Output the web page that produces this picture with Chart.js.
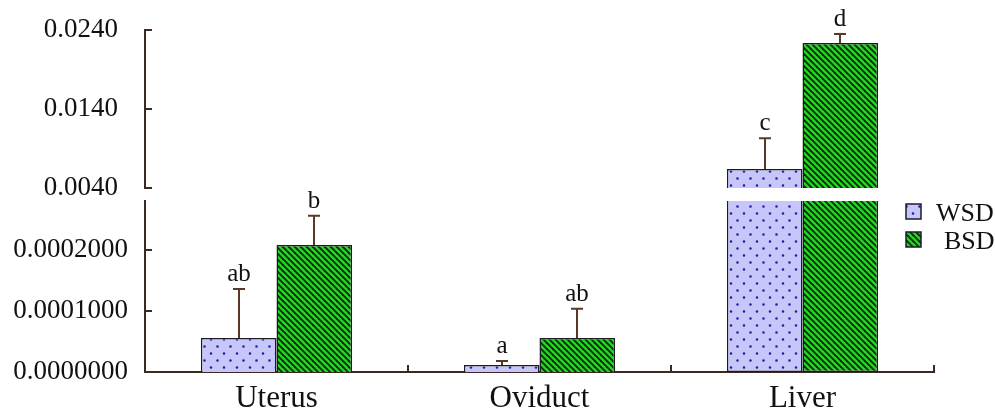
<!DOCTYPE html>
<html lang="en">
<head>
<meta charset="UTF-8">
<title>WSD / BSD</title>
<script src="https://cdn.jsdelivr.net/npm/chart.js"></script>
<style>
  body { margin: 0; background: #fff; }
  .wrap { width: 995px; height: 417px; position: relative; }
</style>
</head>
<body>
<div class="wrap"><canvas id="chart"></canvas></div>
<script>
  // data
  const tissues = ['Uterus', 'Oviduct', 'Liver'];
  const wsd = [0.0000557, 0.0000115, 0.0064];
  const bsd = [0.000208, 0.0000557, 0.02235];
  const wsdErr = [0.0000803, 0.0000065, 0.0039];
  const bsdErr = [0.000048, 0.0000477, 0.00115];
  const wsdLetters = ['ab', 'a', 'c'];
  const bsdLetters = ['b', 'ab', 'd'];
  const lowTicks = [0, 0.0001, 0.0002];
  const highTicks = [0.004, 0.014, 0.024];
  const lowMax = 0.00028;
  const highMin = 0.004, highMax = 0.024;

  const ink = '#3a2a22';
  const serif = 'Liberation Serif';

  function dotPattern() {
    const c = document.createElement('canvas');
    c.width = 13; c.height = 14;
    const g = c.getContext('2d');
    g.fillStyle = '#c6c6f8';
    g.fillRect(0, 0, 13, 14);
    g.fillStyle = '#1e1eaa';
    g.beginPath();
    g.arc(3, 3.5, 1.3, 0, Math.PI * 2);
    g.arc(9.5, 10.5, 1.3, 0, Math.PI * 2);
    g.fill();
    return g.createPattern(c, 'repeat');
  }
  function stripePattern() {
    const c = document.createElement('canvas');
    c.width = 6; c.height = 6;
    const g = c.getContext('2d');
    g.fillStyle = '#2ad02a';
    g.fillRect(0, 0, 6, 6);
    g.strokeStyle = '#0a2c0a';
    g.lineWidth = 1.8;
    for (const k of [-6, 0, 6]) {
      g.beginPath();
      g.moveTo(k - 1, -1);
      g.lineTo(k + 7, 7);
      g.stroke();
    }
    return g.createPattern(c, 'repeat');
  }
  const dots = dotPattern();
  const stripes = stripePattern();

  // error bars, letters, inward ticks and legend
  const extras = {
    id: 'extras',
    afterDraw(chart) {
      const ctx = chart.ctx;
      const area = chart.chartArea;
      const yLow = chart.scales.yLow, yHigh = chart.scales.yHigh, x = chart.scales.x;
      ctx.save();

      // inward ticks on y axes
      ctx.strokeStyle = ink;
      ctx.lineWidth = 2;
      for (const [sc, vals] of [[yLow, lowTicks], [yHigh, highTicks]]) {
        vals.forEach(v => {
          const py = Math.round(sc.getPixelForValue(v));
          ctx.beginPath();
          ctx.moveTo(area.left, py);
          ctx.lineTo(area.left + 7, py);
          ctx.stroke();
        });
      }
      // upward ticks at category boundaries
      for (let i = 0; i < tissues.length; i++) {
        const px = i < tissues.length - 1
          ? (x.getPixelForValue(i) + x.getPixelForValue(i + 1)) / 2
          : area.right;
        ctx.beginPath();
        ctx.moveTo(Math.round(px), area.bottom);
        ctx.lineTo(Math.round(px), area.bottom - 7);
        ctx.stroke();
      }

      // error bars + significance letters
      const series = [
        [wsd, wsdErr, wsdLetters, 0, 2],
        [bsd, bsdErr, bsdLetters, 1, 3]
      ];
      ctx.font = '25px "' + serif + '"';
      ctx.textAlign = 'center';
      ctx.textBaseline = 'alphabetic';
      for (const [vals, errs, letters, lowIdx, highIdx] of series) {
        vals.forEach((v, i) => {
          const high = v > lowMax;
          const sc = high ? yHigh : yLow;
          const el = chart.getDatasetMeta(high ? highIdx : lowIdx).data[i];
          const bx = Math.round(el.x);
          const y0 = sc.getPixelForValue(v);
          const y1 = sc.getPixelForValue(v + errs[i]);
          ctx.strokeStyle = '#5a3826';
          ctx.lineWidth = 2;
          ctx.beginPath();
          ctx.moveTo(bx, y0);
          ctx.lineTo(bx, y1);
          ctx.moveTo(bx - 6, y1);
          ctx.lineTo(bx + 6, y1);
          ctx.stroke();
          ctx.fillStyle = '#111';
          ctx.fillText(letters[i], bx, y1 - 8);
        });
      }

      // legend
      const lx = area.right - 28;
      const items = [['WSD', dots, 0], ['BSD', stripes, 8]];
      ctx.font = '26px "' + serif + '"';
      ctx.textAlign = 'left';
      items.forEach(([label, fill, shift], k) => {
        const ly = 204 + k * 28;
        ctx.fillStyle = fill;
        ctx.fillRect(lx, ly, 15, 15);
        ctx.strokeStyle = '#1b1b30';
        ctx.lineWidth = 1.5;
        ctx.strokeRect(lx, ly, 15, 15);
        ctx.fillStyle = '#111';
        ctx.fillText(label, lx + 30 + shift, ly + 17);
      });
      ctx.restore();
    }
  };

  const barStyle = {
    borderColor: '#1b1b22',
    borderWidth: 1.5,
    categoryPercentage: 0.575,
    barPercentage: 1
  };

  // stacked y scales: drop the label overhang so the layout padding rules
  const fitY = s => { s.width = 145; s.paddingTop = 0; s.paddingBottom = 0; };

  new Chart(document.getElementById('chart'), {
    type: 'bar',
    data: {
      labels: tissues,
      datasets: [
        Object.assign({
          label: 'WSD', stack: 'WSD', yAxisID: 'yLow', backgroundColor: dots,
          data: wsd.map(v => Math.min(v, lowMax)),
          borderSkipped: c => wsd[c.dataIndex] > lowMax ? 'top' : 'start'
        }, barStyle),
        Object.assign({
          label: 'BSD', stack: 'BSD', yAxisID: 'yLow', backgroundColor: stripes,
          data: bsd.map(v => Math.min(v, lowMax)),
          borderSkipped: c => bsd[c.dataIndex] > lowMax ? 'top' : 'start'
        }, barStyle),
        Object.assign({
          label: 'WSD ', stack: 'WSD', yAxisID: 'yHigh', backgroundColor: dots,
          data: wsd.map(v => v > lowMax ? v : null),
          borderSkipped: false
        }, barStyle),
        Object.assign({
          label: 'BSD ', stack: 'BSD', yAxisID: 'yHigh', backgroundColor: stripes,
          data: bsd.map(v => v > lowMax ? v : null),
          borderSkipped: false
        }, barStyle)
      ]
    },
    options: {
      responsive: true,
      maintainAspectRatio: false,
      animation: false,
      layout: { padding: { left: 0, right: 61, top: 30, bottom: 0 } },
      plugins: { legend: { display: false }, tooltip: { enabled: false } },
      scales: {
        x: {
          afterFit: s => { s.height = 45; },
          grid: { display: false, drawTicks: false },
          border: { display: true, color: ink, width: 2 },
          ticks: { color: '#111', padding: 8, font: { family: serif, size: 31 } }
        },
        yLow: {
          type: 'linear', position: 'left', stack: 'v', stackWeight: 171,
          min: 0, max: lowMax, stacked: false, beginAtZero: false,
          afterBuildTicks: s => { s.ticks = lowTicks.map(v => ({ value: v })); },
          afterFit: fitY,
          grid: { display: false, drawTicks: false },
          border: { display: true, color: ink, width: 2 },
          ticks: { color: '#111', padding: 17, font: { family: serif, size: 27 },
                   callback: v => v.toFixed(7) }
        },
        yGap: {
          type: 'linear', position: 'left', stack: 'v', stackWeight: 13,
          min: 0, max: 1,
          afterFit: fitY,
          grid: { display: false, drawTicks: false },
          border: { display: false },
          ticks: { display: false }
        },
        yHigh: {
          type: 'linear', position: 'left', stack: 'v', stackWeight: 158,
          min: highMin, max: highMax, stacked: false, beginAtZero: false,
          afterBuildTicks: s => { s.ticks = highTicks.map(v => ({ value: v })); },
          afterFit: fitY,
          grid: { display: false, drawTicks: false },
          border: { display: true, color: ink, width: 2 },
          ticks: { color: '#111', padding: 27, font: { family: serif, size: 27 },
                   callback: v => v.toFixed(4) }
        }
      }
    },
    plugins: [extras]
  });
</script>
</body>
</html>
